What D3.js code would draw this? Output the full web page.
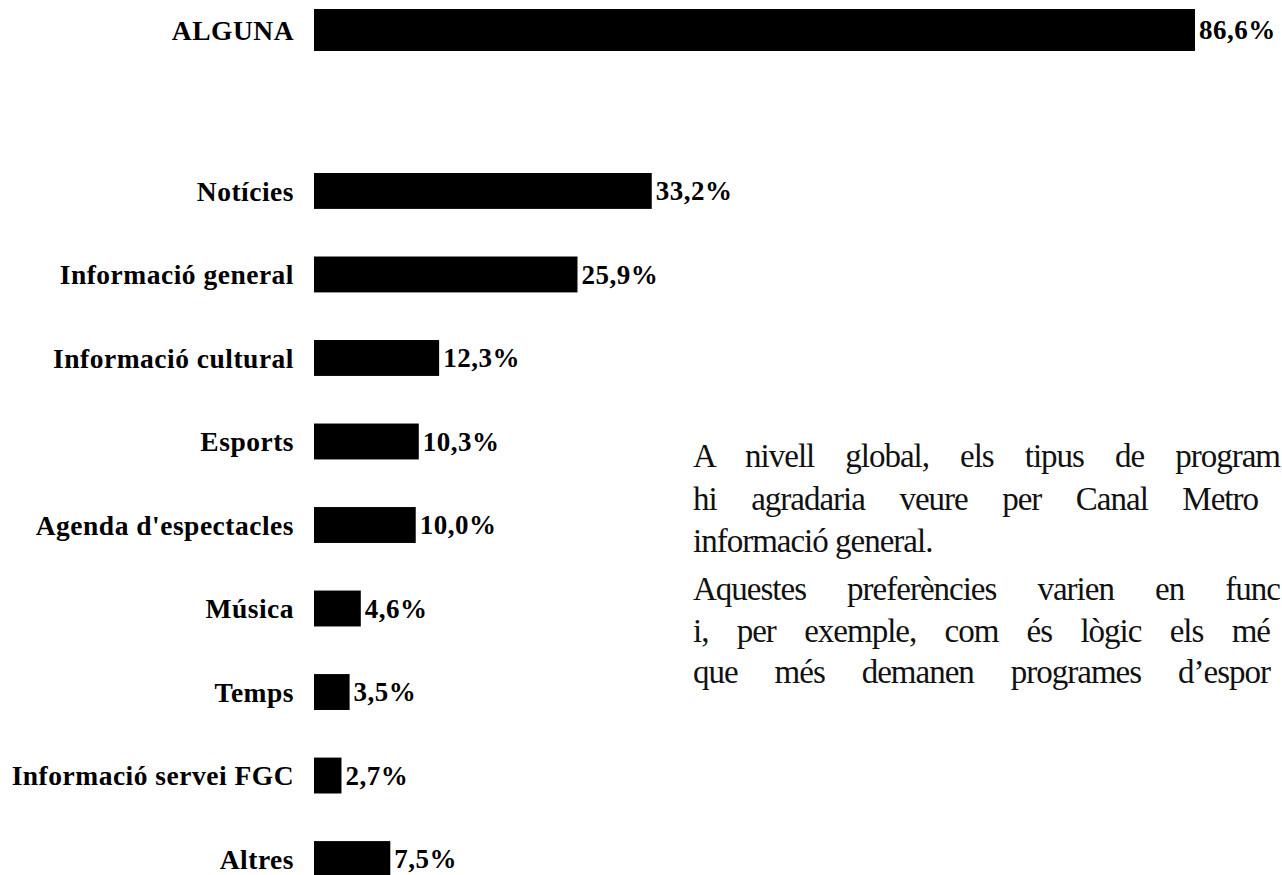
<!DOCTYPE html>
<html lang="ca">
<head>
  <meta charset="UTF-8">
  <title>Programes preferits</title>
  <style>
    html, body { margin: 0; padding: 0; background: #fff; overflow: hidden; }
    text { font-family: "Liberation Serif", "Times New Roman", serif; }
  </style>
</head>
<body>
<script src="https://d3js.org/d3.v7.min.js"></script>
<script>

  // dades
  var totalLabel = ["ALGUNA"];
  var totalValue = [86.6];

  var categories = ["Notícies", "Informació general", "Informació cultural", "Esports",
    "Agenda d'espectacles", "Música", "Temps", "Informació servei FGC", "Altres"];
  var values = [33.2, 25.9, 12.3, 10.3, 10.0, 4.6, 3.5, 2.7, 7.5];

  // text del costat, tal com es veu (tallat pel marge dret)
  var paraLines = [
    "A nivell global, els tipus de program",
    "hi agradaria veure per Canal Metro",
    "informació general.",
    "Aquestes preferències varien en func",
    "i, per exemple, com és lògic els mé",
    "que més demanen programes d’espor"
  ];

  var w = 1282, h = 875;
  var x0 = 314;

  var fmt = function(v) { return d3.format(".1f")(v).replace(".", ",") + "%"; };

  var svg = d3.select("body")
    .append("svg")
    .attr("width", w)
    .attr("height", h);

  var xScale = d3.scaleLinear()
    .domain([0, 86.6])
    .range([x0, 1195]);

  // fila ALGUNA
  var yTop = d3.scaleBand()
    .domain(totalLabel)
    .range([9, 51]);

  // resta de files
  var yScale = d3.scaleBand()
    .domain(categories)
    .range([173, 877])
    .paddingInner(0.57)
    .paddingOuter(0);

  function drawRows(g, labels, vals, y) {
    var rows = g.selectAll("g.row")
      .data(labels.map(function(d, i) { return {name: d, value: vals[i]}; }))
      .enter()
      .append("g")
      .attr("class", "row");

    rows.append("rect")
      .attr("x", xScale(0))
      .attr("y", function(d) { return y(d.name); })
      .attr("width", function(d) { return xScale(d.value) - xScale(0); })
      .attr("height", y.bandwidth())
      .attr("fill", "#000");

    rows.append("text")
      .attr("x", 294)
      .attr("y", function(d) { return y(d.name) + y.bandwidth() / 2; })
      .attr("dy", "0.35em")
      .attr("text-anchor", "end")
      .attr("font-weight", "bold")
      .attr("font-size", "27.5px")
      .attr("letter-spacing", "0.5px")
      .attr("fill", "#000")
      .text(function(d) { return d.name; });

    rows.append("text")
      .attr("x", function(d) { return xScale(d.value) + 4; })
      .attr("y", function(d) { return y(d.name) + y.bandwidth() / 2; })
      .attr("dy", "0.35em")
      .attr("font-weight", "bold")
      .attr("font-size", "27px")
      .attr("letter-spacing", "0.5px")
      .attr("fill", "#000")
      .text(function(d) { return fmt(d.value); });
  }

  drawRows(svg.append("g").attr("id", "total"), totalLabel, totalValue, yTop);
  drawRows(svg.append("g").attr("id", "cats"), categories, values, yScale);

  // paràgraf justificat: on acaba el text visible de cada línia
  var lineY = [467, 510, 552, 600, 642, 683];
  var lineEnd = [1280, 1258, null, 1280, 1270, 1270];
  var para = svg.append("g").attr("id", "para");
  para.selectAll("text")
    .data(paraLines)
    .enter()
    .append("text")
    .attr("x", 693)
    .attr("y", function(d, i) { return lineY[i]; })
    .attr("font-size", "33px")
    .attr("letter-spacing", "-1px")
    .attr("fill", "#111")
    .text(function(d) { return d; })
    .each(function(d, i) {
      if (lineEnd[i] == null) return;
      var len = this.getComputedTextLength();
      var gaps = d.split(" ").length - 1;
      var ws = (lineEnd[i] - 693 - len) / gaps;
      d3.select(this).attr("word-spacing", ws + "px");
    });

</script>
</body>
</html>
